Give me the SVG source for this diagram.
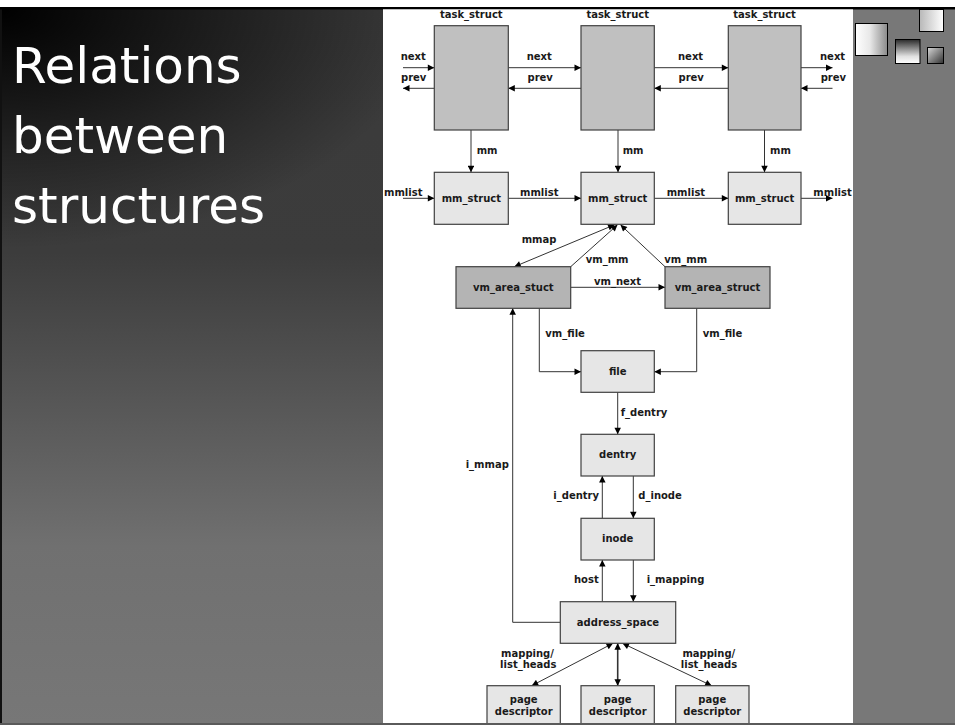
<svg xmlns="http://www.w3.org/2000/svg" width="955" height="725" viewBox="0 0 955 725">
  <defs>
    <linearGradient id="bgV" x1="0" y1="9" x2="0" y2="725" gradientUnits="userSpaceOnUse">
      <stop offset="0" stop-color="#3a3a3a"/>
      <stop offset="0.34" stop-color="#3c3c3c"/>
      <stop offset="0.75" stop-color="#707070"/>
      <stop offset="1" stop-color="#777777"/>
    </linearGradient>
    <radialGradient id="bgDark" cx="0" cy="9" r="1" gradientUnits="userSpaceOnUse" gradientTransform="translate(0 9) scale(430 240) translate(0 -9)">
      <stop offset="0" stop-color="#000" stop-opacity="1"/>
      <stop offset="0.5" stop-color="#000" stop-opacity="0.5"/>
      <stop offset="1" stop-color="#000" stop-opacity="0"/>
    </radialGradient>
    <linearGradient id="sq1" x1="0" y1="0" x2="1" y2="0">
      <stop offset="0" stop-color="#ffffff"/>
      <stop offset="0.45" stop-color="#e8e8e8"/>
      <stop offset="1" stop-color="#8a8a8a"/>
    </linearGradient>
    <linearGradient id="sq2" x1="0" y1="0" x2="1" y2="0">
      <stop offset="0" stop-color="#b8b8b8"/>
      <stop offset="1" stop-color="#ffffff"/>
    </linearGradient>
    <linearGradient id="sq3" x1="0" y1="0" x2="0" y2="1">
      <stop offset="0" stop-color="#2a2a2a"/>
      <stop offset="0.7" stop-color="#e0e0e0"/>
      <stop offset="1" stop-color="#ffffff"/>
    </linearGradient>
    <linearGradient id="sq4" x1="0" y1="0" x2="1" y2="1">
      <stop offset="0" stop-color="#d8d8d8"/>
      <stop offset="1" stop-color="#303030"/>
    </linearGradient>
    <marker id="ah" viewBox="0 0 10 10" refX="10" refY="5" markerWidth="9" markerHeight="6.5" markerUnits="userSpaceOnUse" orient="auto-start-reverse">
      <path d="M0,0 L10,5 L0,10 z" fill="#000"/>
    </marker>
    <style>
      .title { font-family: "DejaVu Sans", Verdana, sans-serif; font-size: 50px; fill: #ffffff; }
      .lbl { font-family: "DejaVu Sans", Verdana, sans-serif; font-size: 10px; font-weight: bold; fill: #1a1a1a; }
      .mid { text-anchor: middle; }
      .box { stroke: #404040; stroke-width: 1.2; }
      .task { fill: #c0c0c0; }
      .light { fill: #e6e6e6; }
      .vma { fill: #b4b4b4; }
      .wire { fill: none; stroke: #333333; stroke-width: 1; }
      .arr { marker-end: url(#ah); }
      .both { marker-start: url(#ah); marker-end: url(#ah); }
      .deco { stroke: #000; stroke-width: 1; }
    </style>
  </defs>

  <!-- slide background -->
  <rect x="0" y="0" width="955" height="725" fill="#ffffff"/>
  <rect x="0" y="9" width="383" height="716" fill="url(#bgV)"/>
  <rect x="0" y="9" width="383" height="300" fill="url(#bgDark)"/>
  <rect x="0" y="9" width="2" height="716" fill="#111"/>
  <rect x="853" y="9" width="102" height="716" fill="#787878"/>
  <rect x="0" y="7" width="955" height="2.5" fill="#000"/>
  <rect x="0" y="723" width="955" height="2" fill="#5a5a5a"/>

  <!-- title -->
  <g id="title">
    <text class="title" x="12" y="83">Relations</text>
    <text class="title" x="12" y="153">between</text>
    <text class="title" x="12" y="223">structures</text>
  </g>

  <!-- corner ornament -->
  <g id="ornament">
    <rect class="deco" x="919.5" y="9.5" width="24" height="22" fill="url(#sq2)"/>
    <rect class="deco" x="855.5" y="23.5" width="32" height="32" fill="url(#sq1)"/>
    <rect class="deco" x="895.5" y="39.5" width="24.5" height="24" fill="url(#sq3)"/>
    <rect class="deco" x="927.5" y="47.5" width="16" height="16" fill="url(#sq4)"/>
  </g>

  <!-- diagram panel -->
  <rect x="383" y="9.5" width="470" height="713.5" fill="#ffffff"/>

  <!-- connectors -->
  <g id="connectors">
    <!-- task list links -->
    <line class="wire arr" x1="403" y1="67.7" x2="434.3" y2="67.7"/>
    <line class="wire arr" x1="434.3" y1="88.3" x2="403" y2="88.3"/>
    <line class="wire arr" x1="508.3" y1="67.7" x2="581" y2="67.7"/>
    <line class="wire arr" x1="581" y1="88.3" x2="508.3" y2="88.3"/>
    <line class="wire arr" x1="654.3" y1="67.7" x2="728.3" y2="67.7"/>
    <line class="wire arr" x1="728.3" y1="88.3" x2="654.3" y2="88.3"/>
    <line class="wire arr" x1="801" y1="67.7" x2="832.5" y2="67.7"/>
    <line class="wire arr" x1="832.5" y1="88.3" x2="801" y2="88.3"/>
    <!-- mm pointers -->
    <line class="wire arr" x1="471" y1="130" x2="471" y2="172.3"/>
    <line class="wire arr" x1="618" y1="130" x2="618" y2="172.3"/>
    <line class="wire arr" x1="764.5" y1="130" x2="764.5" y2="172.3"/>
    <!-- mmlist -->
    <line class="wire arr" x1="403" y1="198.3" x2="434.3" y2="198.3"/>
    <line class="wire arr" x1="508.3" y1="198.3" x2="581" y2="198.3"/>
    <line class="wire arr" x1="654.3" y1="198.3" x2="728.3" y2="198.3"/>
    <line class="wire arr" x1="801" y1="198.3" x2="832.5" y2="198.3"/>
    <!-- mmap / vm_mm -->
    <line class="wire both" x1="514.3" y1="266.7" x2="614.5" y2="224.8"/>
    <line class="wire arr" x1="570.7" y1="266.7" x2="617.5" y2="224.8"/>
    <line class="wire arr" x1="665" y1="266.7" x2="620.5" y2="224.8"/>
    <!-- vm_next -->
    <line class="wire arr" x1="570.7" y1="287.3" x2="665" y2="287.3"/>
    <!-- vm_file -->
    <polyline class="wire arr" points="539.3,308.3 539.3,371.7 581,371.7"/>
    <polyline class="wire arr" points="696.7,308.3 696.7,371.7 654.3,371.7"/>
    <!-- file / dentry / inode -->
    <line class="wire arr" x1="617.7" y1="392.3" x2="617.7" y2="434.3"/>
    <line class="wire arr" x1="602.3" y1="518.3" x2="602.3" y2="476"/>
    <line class="wire arr" x1="633.3" y1="476" x2="633.3" y2="518.3"/>
    <line class="wire arr" x1="602.3" y1="601.7" x2="602.3" y2="560"/>
    <line class="wire arr" x1="633.3" y1="560" x2="633.3" y2="601.7"/>
    <!-- i_mmap -->
    <polyline class="wire arr" points="560.3,622.3 512.7,622.3 512.7,308.3"/>
    <!-- page descriptors -->
    <line class="wire both" x1="613" y1="643.3" x2="531.7" y2="685.7"/>
    <line class="wire both" style="stroke-width:1.6" x1="617.7" y1="643.3" x2="617.7" y2="685.7"/>
    <line class="wire both" x1="622.5" y1="643.3" x2="711.7" y2="685.7"/>
  </g>

  <!-- connector labels -->
  <g id="connector-labels" class="lbl">
    <text x="400.7" y="60">next</text>
    <text x="401" y="81">prev</text>
    <text x="526.7" y="60">next</text>
    <text x="527.5" y="81">prev</text>
    <text x="678" y="60">next</text>
    <text x="678.5" y="81">prev</text>
    <text x="820" y="60">next</text>
    <text x="820.7" y="81">prev</text>
    <text x="476.7" y="154">mm</text>
    <text x="622.7" y="154">mm</text>
    <text x="770" y="154">mm</text>
    <text x="384" y="195.7">mmlist</text>
    <text x="520" y="195.7">mmlist</text>
    <text x="666.7" y="195.7">mmlist</text>
    <text x="813.3" y="195.7">mmlist</text>
    <text x="521.7" y="242.7">mmap</text>
    <text x="585.7" y="263.3">vm_mm</text>
    <text x="664.3" y="263.3">vm_mm</text>
    <text x="594" y="284.5">vm_next</text>
    <text x="545.3" y="337.3">vm_file</text>
    <text x="702.7" y="337.3">vm_file</text>
    <text x="620.7" y="415.7">f_dentry</text>
    <text x="465.7" y="468.3">i_mmap</text>
    <text x="553.3" y="499">i_dentry</text>
    <text x="638.3" y="499">d_inode</text>
    <text x="574" y="583.3">host</text>
    <text x="646.7" y="583.3">i_mapping</text>
    <text class="mid" x="527.5" y="656.7">mapping/</text>
    <text class="mid" x="528.3" y="667.7">list_heads</text>
    <text class="mid" x="708.8" y="656.7">mapping/</text>
    <text class="mid" x="709" y="667.7">list_heads</text>
  </g>

  <!-- nodes -->
  <g id="task1">
    <rect class="box task" x="434.3" y="25.7" width="74" height="104.3"/>
    <text class="lbl mid" x="471.3" y="18.3">task_struct</text>
  </g>
  <g id="task2">
    <rect class="box task" x="581" y="25.7" width="73.3" height="104.3"/>
    <text class="lbl mid" x="617.7" y="18.3">task_struct</text>
  </g>
  <g id="task3">
    <rect class="box task" x="728.3" y="25.7" width="72.7" height="104.3"/>
    <text class="lbl mid" x="764.6" y="18.3">task_struct</text>
  </g>
  <g id="mm1">
    <rect class="box light" x="434.3" y="172.3" width="74" height="52"/>
    <text class="lbl mid" x="471.3" y="201.7">mm_struct</text>
  </g>
  <g id="mm2">
    <rect class="box light" x="581" y="172.3" width="73.3" height="52"/>
    <text class="lbl mid" x="617.7" y="201.7">mm_struct</text>
  </g>
  <g id="mm3">
    <rect class="box light" x="728.3" y="172.3" width="72.7" height="52"/>
    <text class="lbl mid" x="764.6" y="201.7">mm_struct</text>
  </g>
  <g id="vma1">
    <rect class="box vma" x="456" y="266.7" width="114.7" height="41.6"/>
    <text class="lbl mid" x="513.3" y="290.5">vm_area_stuct</text>
  </g>
  <g id="vma2">
    <rect class="box vma" x="665" y="266.7" width="105" height="41.6"/>
    <text class="lbl mid" x="717.5" y="290.5">vm_area_struct</text>
  </g>
  <g id="file">
    <rect class="box light" x="581" y="350.7" width="73.3" height="41.6"/>
    <text class="lbl mid" x="617.7" y="374.5">file</text>
  </g>
  <g id="dentry">
    <rect class="box light" x="581" y="434.3" width="73.3" height="41.7"/>
    <text class="lbl mid" x="617.7" y="458">dentry</text>
  </g>
  <g id="inode">
    <rect class="box light" x="581" y="518.3" width="73.3" height="41.7"/>
    <text class="lbl mid" x="617.7" y="542">inode</text>
  </g>
  <g id="address-space">
    <rect class="box light" x="560.3" y="601.7" width="115.4" height="41.6"/>
    <text class="lbl mid" x="618" y="625.7">address_space</text>
  </g>
  <g id="page1">
    <rect class="box light" x="487" y="685.7" width="73.3" height="45"/>
    <text class="lbl mid" x="523.7" y="703.3">page</text>
    <text class="lbl mid" x="523.7" y="715">descriptor</text>
  </g>
  <g id="page2">
    <rect class="box light" x="581" y="685.7" width="73.3" height="45"/>
    <text class="lbl mid" x="617.7" y="703.3">page</text>
    <text class="lbl mid" x="617.7" y="715">descriptor</text>
  </g>
  <g id="page3">
    <rect class="box light" x="675.7" y="685.7" width="73.3" height="45"/>
    <text class="lbl mid" x="712.3" y="703.3">page</text>
    <text class="lbl mid" x="712.3" y="715">descriptor</text>
  </g>

  <!-- bottom edge drawn over the cut-off boxes -->
  <rect x="383" y="723" width="470" height="2" fill="#5a5a5a"/>
</svg>
